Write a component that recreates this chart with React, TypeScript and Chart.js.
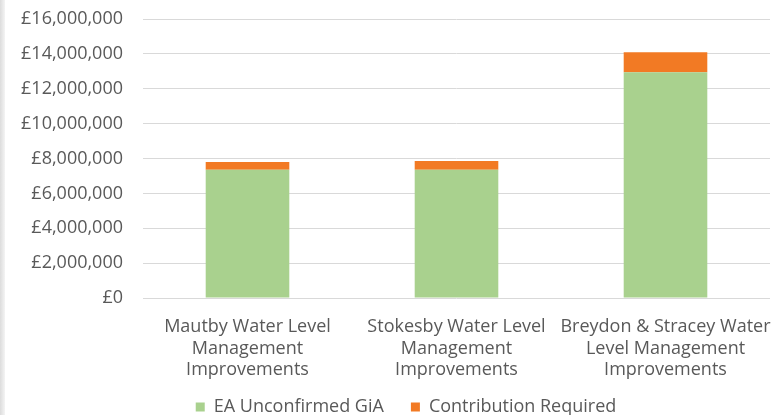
import React, { useEffect, useRef } from "react";
import { Chart, registerables } from "chart.js";

Chart.register(...registerables);

// Projects (multi-line axis labels)
const categories: string[][] = [
  ["Mautby Water Level", "Management", "Improvements"],
  ["Stokesby Water Level", "Management", "Improvements"],
  ["Breydon & Stracey Water", "Level Management", "Improvements"],
];

// Funding split per project, in pounds
const eaUnconfirmedGiA: number[] = [7350000, 7350000, 12950000];
const contributionRequired: number[] = [450000, 500000, 1150000];

// Series names shown in the legend
const seriesNames: string[] = ["EA Unconfirmed GiA", "Contribution Required"];

// Value axis ticks
const yMax = 16000000;
const yStep = 2000000;

const TEXT = "#595959";
const FONT = "'Open Sans', 'Noto Sans', sans-serif";
const COLORS = ["#A9D18E", "#F27A24"];

const formatPounds = (v: number) =>
  "£" + Math.round(v).toLocaleString("en-GB");

// Centre the legend under the chart box rather than the whole canvas
const legendOffset = {
  id: "legendOffset",
  afterLayout(chart: any) {
    if (chart.legend) chart.legend.left = 42;
  },
};

export default function App() {
  const canvasRef = useRef<HTMLCanvasElement | null>(null);

  useEffect(() => {
    document.body.style.margin = "0";
    const ctx = canvasRef.current;
    if (!ctx) return;
    const chart = new Chart(ctx, {
      type: "bar",
      data: {
        labels: categories,
        datasets: [
          {
            label: seriesNames[0],
            data: eaUnconfirmedGiA,
            backgroundColor: COLORS[0],
            stack: "s",
          },
          {
            label: seriesNames[1],
            data: contributionRequired,
            backgroundColor: COLORS[1],
            stack: "s",
          },
        ],
      },
      plugins: [legendOffset],
      options: {
        animation: false,
        responsive: false,
        maintainAspectRatio: false,
        datasets: {
          bar: { barPercentage: 0.4, categoryPercentage: 1 },
        },
        layout: { padding: { left: 0, right: 7, top: 19, bottom: -11 } },
        plugins: {
          tooltip: { enabled: false },
          legend: {
            position: "bottom",
            labels: {
              color: TEXT,
              font: { family: FONT, size: 18 },
              boxWidth: 9,
              boxHeight: 9,
              padding: 13,
              // extra trailing space widens the gap between the two entries
              generateLabels: (c: any) =>
                Chart.defaults.plugins.legend.labels
                  .generateLabels(c)
                  .map((item: any, i: number, all: any[]) => ({
                    ...item,
                    text: i < all.length - 1 ? item.text + "   " : item.text,
                  })),
            },
          },
        },
        scales: {
          x: {
            stacked: true,
            grid: { display: false, drawTicks: false },
            border: { display: false },
            afterFit: (scale: any) => {
              scale.paddingLeft = 0;
              scale.paddingRight = 0;
              scale.height = 87;
            },
            ticks: {
              color: TEXT,
              font: { family: FONT, size: 18, lineHeight: 1.2 },
              padding: 18,
              maxRotation: 0,
              autoSkip: false,
            },
          },
          y: {
            stacked: true,
            min: 0,
            max: yMax,
            grid: { color: "#D9D9D9", drawTicks: false, lineWidth: 1 },
            border: { display: false },
            afterFit: (scale: any) => {
              scale.width = 143;
              scale.paddingTop = 0;
              scale.paddingBottom = 0;
            },
            ticks: {
              stepSize: yStep,
              color: TEXT,
              font: { family: FONT, size: 18 },
              padding: 20,
              callback: (v: any) => formatPounds(Number(v)),
            },
          },
        },
      },
    });
    return () => chart.destroy();
  }, []);

  return (
    <div style={{ position: "relative", width: 777, height: 415, background: "#fff" }}>
      <div
        style={{
          position: "absolute",
          left: 0,
          top: 0,
          width: 5,
          height: 415,
          background: "linear-gradient(to right, #dcdcdc, #f4f4f4)",
        }}
      />
      <canvas ref={canvasRef} width={777} height={415} style={{ display: "block" }} />
    </div>
  );
}
